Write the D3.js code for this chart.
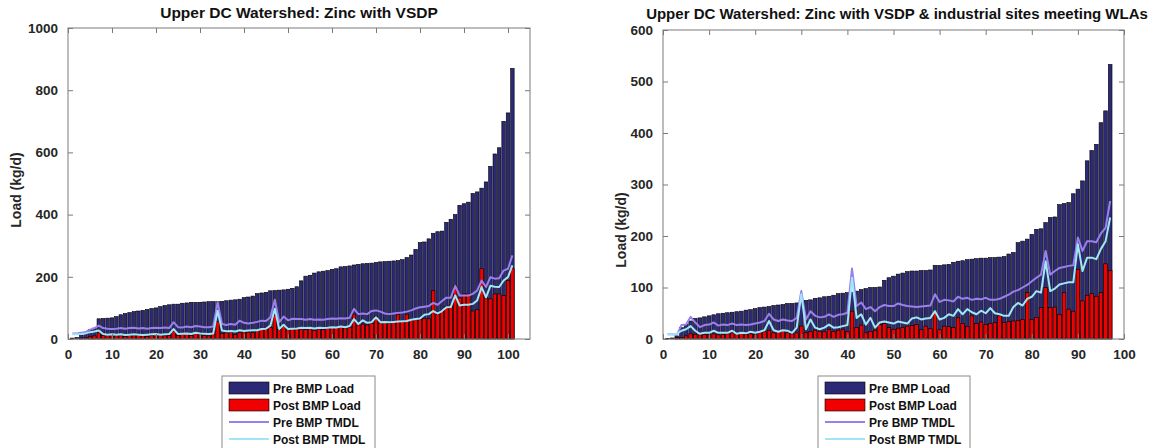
<!DOCTYPE html>
<html>
<head>
<meta charset="utf-8">
<script src="https://cdn.jsdelivr.net/npm/d3@7"></script>
<style>
  html, body { margin: 0; padding: 0; background: #fff; }
  svg { display: block; font-family: "Liberation Sans", Arial, Helvetica, sans-serif; }
</style>
</head>
<body>
<svg id="chart" width="1157" height="448"></svg>
<script>
// ---- Upper DC Watershed, zinc loads (kg/d), sorted by pre-BMP load ----

// Panel A: Zinc with VSDP (101 subwatersheds)
const preLoadA = [3,5,12,22,30,35,65,66,67,68,72,78,82,85,88,90,92,95,98,100,
  104,108,110,112,112,115,116,118,118,118,119,120,120,120,121,123,125,126,128,133,
  135,138,146,148,150,155,156,157,158,160,163,168,187,202,205,212,216,218,220,224,
  226,232,233,235,238,240,242,243,244,246,248,249,250,251,252,255,262,270,288,310,
  312,322,340,345,347,375,385,400,430,435,440,468,473,485,505,555,595,615,700,727,870];
const postLoadA = [0,0,3,5,8,10,20,12,10,15,10,12,8,12,10,12,10,8,12,15,
  12,10,12,25,12,15,18,12,22,15,12,10,25,55,18,20,22,15,20,25,
  22,20,28,30,32,38,75,30,40,30,32,35,32,30,34,28,32,30,35,38,
  36,40,35,38,80,45,48,45,50,72,52,54,50,55,80,60,80,60,64,62,
  66,65,155,80,90,105,110,171,132,145,145,90,94,226,132,129,145,145,140,188,226];
const preTmdlA = [18,18,20,22,30,35,43,35,33,32,33,35,33,35,36,34,35,33,35,36,
  35,37,35,54,38,37,40,38,42,40,38,38,40,118,48,45,48,46,59,52,
  50,52,55,59,58,70,126,54,72,60,65,64,64,62,64,62,63,62,64,66,
  65,67,66,68,97,80,82,80,90,92,88,82,80,82,84,85,88,92,98,102,
  104,106,116,110,122,133,133,171,140,140,140,145,156,188,167,199,194,195,220,226,269];
const postTmdlA = [15,15,16,18,22,24,27,16,14,15,14,15,13,14,15,14,13,14,15,16,
  14,15,16,32,16,17,18,16,20,18,17,16,18,91,27,25,26,24,28,26,
  27,28,28,32,33,43,97,32,46,32,33,34,36,35,36,34,36,35,36,38,
  37,40,38,42,64,48,60,52,54,70,54,55,54,55,56,57,58,62,64,66,
  78,80,90,82,90,102,103,140,108,110,110,113,124,167,134,171,168,167,188,199,237];

// Panel B: Zinc with VSDP & industrial sites meeting WLAs (97 subwatersheds)
const preLoadB = [1,2,6,22,28,35,40,41,43,45,47,49,50,51,52,53,54,56,57,59,
  61,62,63,65,66,67,69,69,70,72,75,76,79,80,82,83,85,88,89,90,
  91,93,96,98,100,100,101,114,119,122,126,128,131,132,132,133,133,134,143,143,
  144,145,149,151,152,154,155,156,157,157,158,158,159,160,165,168,187,190,194,203,
  213,214,226,236,237,261,263,265,282,291,307,346,366,378,420,443,533];
const postLoadB = [0,0,3,3,6,10,9,8,9,8,10,8,9,10,12,9,12,9,10,9,
  12,14,17,12,14,16,12,10,12,25,12,14,17,15,14,19,15,17,19,15,
  54,22,27,12,15,17,28,30,22,19,21,22,25,26,28,18,25,20,51,18,
  25,24,22,41,30,24,45,30,33,28,30,32,45,32,34,35,36,38,90,38,
  42,61,100,61,62,48,90,58,54,135,74,85,88,83,90,146,133];
const preTmdlB = [9,9,8,27,28,43,32,23,27,28,32,26,28,27,30,27,28,27,28,30,
  32,35,49,38,35,38,36,35,41,93,38,54,45,42,43,48,43,47,48,51,
  137,64,71,58,62,54,62,66,64,64,69,66,64,63,62,63,64,65,87,72,
  76,75,73,82,78,80,76,78,77,80,76,76,78,82,86,92,95,100,105,112,
  119,125,171,125,132,138,140,142,143,197,171,190,190,188,205,216,268];
const postTmdlB = [9,9,10,16,19,25,16,10,12,12,16,12,12,12,16,10,12,11,14,12,
  14,17,35,17,14,17,16,12,22,87,19,38,22,19,22,28,22,23,25,27,
  119,41,48,28,41,22,32,34,32,30,34,32,30,40,42,38,40,41,54,38,
  41,48,45,58,48,58,52,48,55,50,60,50,48,45,45,62,70,65,78,82,
  93,90,151,93,98,106,108,110,110,184,132,158,158,155,175,190,236];

const yTicksA = [0, 200, 400, 600, 800, 1000];
const yTicksB = [0, 100, 200, 300, 400, 500, 600];
const xTicks = [0, 10, 20, 30, 40, 50, 60, 70, 80, 90, 100];
const legendLabels = ["Pre BMP Load", "Post BMP Load", "Pre BMP TMDL", "Post BMP TMDL"];

const COLORS = {
  pre: "#2c2977",
  post: "#f00000",
  preTmdl: "#9a80ec",
  postTmdl: "#9fe6f6",
  box: "#7a7a7a",
  text: "#262626"
};

const svg = d3.select("#chart");

function drawPanel(cfg) {
  const g = svg.append("g");
  const x = d3.scaleLinear().domain(cfg.xDomain).range([cfg.left, cfg.right]);
  const y = d3.scaleLinear().domain(cfg.yDomain).range([cfg.bottom, cfg.top]);
  const idx = cfg.pre.map((_, i) => i + 1);
  const bw = x(0.8) - x(0);

  // bars: pre-BMP load, with post-BMP load drawn on top
  const bars = g.append("g");
  bars.selectAll("rect.pre").data(idx).join("rect")
    .attr("x", d => x(d) - bw / 2).attr("width", bw)
    .attr("y", d => y(cfg.pre[d - 1])).attr("height", d => y(0) - y(cfg.pre[d - 1]))
    .attr("fill", COLORS.pre).attr("stroke", "#000").attr("stroke-width", 0.6);
  bars.selectAll("rect.post").data(idx.filter(d => cfg.post[d - 1] > 0)).join("rect")
    .attr("x", d => x(d) - bw / 2).attr("width", bw)
    .attr("y", d => y(cfg.post[d - 1])).attr("height", d => y(0) - y(cfg.post[d - 1]))
    .attr("fill", COLORS.post).attr("stroke", "#000").attr("stroke-width", 0.6);

  // TMDL lines
  const line = arr => d3.line().x((_, i) => x(i + 1)).y(v => y(v))(arr);
  g.append("path").attr("d", line(cfg.preTmdl)).attr("fill", "none")
    .attr("stroke", COLORS.preTmdl).attr("stroke-width", 2).attr("stroke-linejoin", "round");
  g.append("path").attr("d", line(cfg.postTmdl)).attr("fill", "none")
    .attr("stroke", COLORS.postTmdl).attr("stroke-width", 2).attr("stroke-linejoin", "round");

  // axes box with inward ticks on all four sides
  const tl = 5;
  const axB = g.append("g").attr("transform", `translate(0,${cfg.bottom})`)
    .call(d3.axisBottom(x).tickValues(xTicks).tickSizeInner(-tl).tickSizeOuter(0)
      .tickPadding(10).tickFormat(d3.format("d")));
  const axT = g.append("g").attr("transform", `translate(0,${cfg.top})`)
    .call(d3.axisTop(x).tickValues(xTicks).tickSizeInner(-tl).tickSizeOuter(0).tickFormat(""));
  const axL = g.append("g").attr("transform", `translate(${cfg.left},0)`)
    .call(d3.axisLeft(y).tickValues(cfg.yTicks).tickSizeInner(-tl).tickSizeOuter(0)
      .tickPadding(10).tickFormat(d3.format("d")));
  const axR = g.append("g").attr("transform", `translate(${cfg.right},0)`)
    .call(d3.axisRight(y).tickValues(cfg.yTicks).tickSizeInner(-tl).tickSizeOuter(0).tickFormat(""));
  [axB, axT, axL, axR].forEach(a => {
    a.select(".domain").remove();
    a.selectAll(".tick line").attr("stroke", COLORS.box);
    a.selectAll("text").attr("fill", COLORS.text).attr("font-size", 13.5).attr("font-weight", "bold");
  });
  g.append("rect").attr("x", cfg.left).attr("y", cfg.top)
    .attr("width", cfg.right - cfg.left).attr("height", cfg.bottom - cfg.top)
    .attr("fill", "none").attr("stroke", COLORS.box).attr("stroke-width", 1);

  // title and axis label
  g.append("text").attr("x", cfg.titleX).attr("y", cfg.titleY).attr("text-anchor", "middle")
    .attr("font-size", cfg.titleSize).attr("font-weight", "bold").attr("fill", "#111").text(cfg.title);
  g.append("text").attr("transform", `translate(${cfg.ylabX},${cfg.ylabY}) rotate(-90)`)
    .attr("text-anchor", "middle").attr("font-size", 14).attr("font-weight", "bold")
    .attr("fill", COLORS.text).text("Load (kg/d)");

  // legend
  const lg = g.append("g").attr("transform", `translate(${cfg.legX},${cfg.legY})`);
  lg.append("rect").attr("x", 0).attr("y", 0).attr("width", cfg.legW).attr("height", 90)
    .attr("fill", "#fff").attr("stroke", "#8a8a8a").attr("stroke-width", 1);
  legendLabels.forEach((lab, i) => {
    const cy = 12 + i * 17;
    if (i < 2) {
      lg.append("rect").attr("x", 7).attr("y", cy - 6).attr("width", 40).attr("height", 12)
        .attr("fill", i === 0 ? COLORS.pre : COLORS.post).attr("stroke", "#000").attr("stroke-width", 0.6);
    } else {
      lg.append("line").attr("x1", 7).attr("x2", 47).attr("y1", cy).attr("y2", cy)
        .attr("stroke", i === 2 ? COLORS.preTmdl : COLORS.postTmdl).attr("stroke-width", 2);
    }
    lg.append("text").attr("x", 51).attr("y", cy + 4.5).attr("font-size", 12)
      .attr("font-weight", "bold").attr("fill", "#111").text(lab);
  });
}

drawPanel({
  pre: preLoadA, post: postLoadA, preTmdl: preTmdlA, postTmdl: postTmdlA,
  xDomain: [0, 105], yDomain: [0, 1000], yTicks: yTicksA,
  left: 68, right: 530, top: 28, bottom: 339,
  title: "Upper DC Watershed: Zinc with VSDP", titleX: 299, titleY: 18, titleSize: 15.5,
  ylabX: 21, ylabY: 190,
  legX: 222, legY: 376, legW: 153
});

drawPanel({
  pre: preLoadB, post: postLoadB, preTmdl: preTmdlB, postTmdl: postTmdlB,
  xDomain: [0, 100], yDomain: [0, 600], yTicks: yTicksB,
  left: 663, right: 1124, top: 30, bottom: 339,
  title: "Upper DC Watershed: Zinc with VSDP & industrial sites meeting WLAs", titleX: 897, titleY: 19, titleSize: 15,
  ylabX: 626, ylabY: 230,
  legX: 818, legY: 376, legW: 152
});
</script>
</body>
</html>
